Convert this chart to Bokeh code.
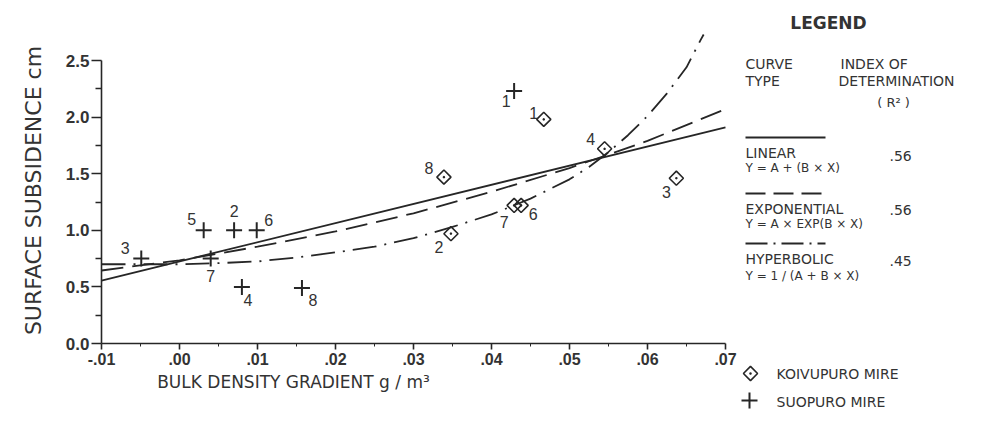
import numpy as np
from bokeh.plotting import figure
from bokeh.models import Range1d, FixedTicker, Label
from bokeh.core.properties import value
from bokeh.embed import file_html
from bokeh.resources import INLINE

# ---------------- data ----------------
x_ticks = [-0.01, 0.0, 0.01, 0.02, 0.03, 0.04, 0.05, 0.06, 0.07]
x_tick_labels = ["-.01", ".00", ".01", ".02", ".03", ".04", ".05", ".06", ".07"]
x_minor_ticks = [-0.005, 0.005, 0.015, 0.025, 0.035, 0.045, 0.055, 0.065]
y_ticks = [0.0, 0.5, 1.0, 1.5, 2.0, 2.5]
y_tick_labels = ["0.0", "0.5", "1.0", "1.5", "2.0", "2.5"]
y_minor_ticks = [0.25, 0.75, 1.25, 1.75, 2.25]

# Koivupuro mire (diamonds)
koiv_id = ["1", "2", "3", "4", "6", "7", "8"]
koiv_x = [0.0467, 0.0348, 0.0637, 0.0545, 0.0438, 0.0429, 0.0339]
koiv_y = [1.98, 0.97, 1.46, 1.72, 1.22, 1.22, 1.47]

# Suopuro mire (plus signs)
suo_id = ["1", "2", "3", "4", "5", "6", "7", "8"]
suo_x = [0.0429, 0.0070, -0.0049, 0.0080, 0.0031, 0.0099, 0.0040, 0.0157]
suo_y = [2.23, 1.00, 0.75, 0.50, 1.00, 1.00, 0.75, 0.49]

# fitted curves
lin_x = [-0.01, 0.07]
lin_y = [0.556, 1.91]
exp_x = [-0.01, 0.0, 0.01, 0.02, 0.03, 0.04, 0.05, 0.06, 0.07]
exp_y = [0.645, 0.735, 0.855, 0.99, 1.15, 1.34, 1.55, 1.79, 2.07]
hyp_x = [-0.01, -0.005, 0.0, 0.005, 0.01, 0.015, 0.02, 0.025, 0.03, 0.035,
         0.04, 0.045, 0.05, 0.0525, 0.055, 0.0575, 0.06, 0.0625, 0.065, 0.0668, 0.0672]
hyp_y = [0.70, 0.70, 0.70, 0.71, 0.725, 0.76, 0.805, 0.855, 0.93, 1.03,
         1.14, 1.28, 1.45, 1.56, 1.69, 1.84, 2.01, 2.21, 2.44, 2.68, 2.73]

curve_names = ["LINEAR", "EXPONENTIAL", "HYPERBOLIC"]
curve_formulas = ["Y = A + (B × X)", "Y = A × EXP(B × X)", "Y = 1 / (A + B × X)"]
curve_r2 = [".56", ".56", ".45"]
group_names = ["KOIVUPURO MIRE", "SUOPURO MIRE"]

# ---------------- layout ----------------
W, H = 991, 421
AX_LEFT = 101       # px of x = -0.01 (y axis)
AX_BOTTOM = 343     # px (from top) of y = 0 (x axis)
PX_PER_X = 7800.0
PX_PER_Y = 113.2
X0 = x_ticks[0] - AX_LEFT / PX_PER_X
X1 = X0 + W / PX_PER_X
Y0 = -(H - AX_BOTTOM) / PX_PER_Y
Y1 = AX_BOTTOM / PX_PER_Y
INK = "#262626"
TXT = "#333333"


def dx(px):
    return X0 + px / PX_PER_X


def dy(py):
    return (AX_BOTTOM - py) / PX_PER_Y


p = figure(width=W, height=H, x_range=Range1d(X0, X1), y_range=Range1d(Y0, Y1),
           output_backend="svg", toolbar_location=None,
           min_border_left=0, min_border_right=0, min_border_top=0,
           min_border_bottom=0)
p.outline_line_color = None
p.grid.visible = False
p.background_fill_color = "white"
p.border_fill_color = "white"

xa = p.xaxis[0]
xa.fixed_location = 0
xa.ticker = FixedTicker(ticks=x_ticks, minor_ticks=x_minor_ticks)
xa.major_label_overrides = dict(zip(x_ticks, x_tick_labels))
xa.bounds = (x_ticks[0], x_ticks[-1])
xa.axis_line_color = INK
xa.axis_line_width = 1.6
xa.major_tick_line_color = INK
xa.major_tick_line_width = 1.6
xa.major_tick_in = 0
xa.major_tick_out = 6
xa.minor_tick_line_color = INK
xa.minor_tick_in = 0
xa.minor_tick_out = 3
xa.major_label_standoff = 3
xa.major_label_text_font = "Liberation Sans"
xa.major_label_text_font_style = "bold"
xa.major_label_text_font_size = "16px"
xa.major_label_text_color = TXT

ya = p.yaxis[0]
ya.fixed_location = x_ticks[0]
ya.ticker = FixedTicker(ticks=y_ticks, minor_ticks=y_minor_ticks)
ya.major_label_overrides = dict(zip(y_ticks, y_tick_labels))
ya.bounds = (y_ticks[0], y_ticks[-1])
ya.axis_line_color = INK
ya.axis_line_width = 1.6
ya.major_tick_line_color = INK
ya.major_tick_line_width = 1.6
ya.major_tick_in = 0
ya.major_tick_out = 10
ya.minor_tick_line_color = INK
ya.minor_tick_line_width = 1.4
ya.minor_tick_in = 0
ya.minor_tick_out = 6
ya.major_label_standoff = 2
ya.major_label_text_font = "Liberation Sans"
ya.major_label_text_font_style = "bold"
ya.major_label_text_font_size = "17px"
ya.major_label_text_color = TXT

# curves
p.line(lin_x, lin_y, line_color=INK, line_width=1.8)
p.line(exp_x, exp_y, line_color=INK, line_width=1.8, line_dash="22 9")
p.line(hyp_x, hyp_y, line_color=INK, line_width=1.8, line_dash="24 8 2 8")

# points
KOIV_STYLE = dict(marker="square_dot", angle=np.pi / 4, size=10,
                  fill_color=None, line_color=INK, line_width=1.6)
SUO_STYLE = dict(marker="cross", size=16, line_color=INK, line_width=2)
p.scatter(koiv_x, koiv_y, **KOIV_STYLE)
p.scatter(suo_x, suo_y, **SUO_STYLE)

# point numbers (pixel offsets are layout)
koiv_dx = [-10, -12, -10, -14, 12, -10, -15]
koiv_dy = [-6, 13, 14, -10, 9, 17, -9]
suo_dx = [-8, 0, -16, 6, -12, 12, 0, 11]
suo_dy = [10, -19, -11, 13, -11, -10, 17, 12]
p.text(koiv_x, koiv_y, text=koiv_id, x_offset=koiv_dx, y_offset=koiv_dy,
       text_font=value("Liberation Sans"), text_font_size="16px", text_color=TXT,
       text_align="center", text_baseline="middle")
p.text(suo_x, suo_y, text=suo_id, x_offset=suo_dx, y_offset=suo_dy,
       text_font=value("Liberation Sans"), text_font_size="16px", text_color=TXT,
       text_align="center", text_baseline="middle")


def lab(text, px, py, size=14, align="left", font="DejaVu Sans", style="normal",
        angle=0.0, color=TXT):
    p.add_layout(Label(x=dx(px), y=dy(py), text=text, text_font=font,
                       text_font_size=f"{size}px", text_font_style=style,
                       text_align=align, text_baseline="middle", angle=angle,
                       text_color=color))


# axis titles
lab("SURFACE SUBSIDENCE cm", 33, 190, size=22, align="center", angle=np.pi / 2)
lab("BULK DENSITY GRADIENT g / m³", 293, 381, size=17, align="center")

# legend block (right)
lab("LEGEND", 828, 22, size=17, align="center", style="bold")
lab("CURVE", 745, 63)
lab("TYPE", 745, 80)
lab("INDEX OF", 840, 63)
lab("DETERMINATION", 838, 80)
lab("( R² )", 893, 102, size=13, align="center")

rows_py = [(137, 152, 167, 155), (193, 208, 223, 209), (243, 258, 275, 260)]
dashes = ["solid", "20 8", "22 6 2 6"]
for (ly, ny, fy, ry), nm, fm, r2, dsh in zip(rows_py, curve_names, curve_formulas,
                                              curve_r2, dashes):
    p.line([dx(745), dx(825)], [dy(ly), dy(ly)], line_color=INK, line_width=1.8,
           line_dash=dsh)
    lab(nm, 745, ny)
    lab(fm, 745, fy, size=12)
    lab(r2, 889, ry)

# marker key (bottom right)
p.scatter([dx(750)], [dy(373)], **KOIV_STYLE)
p.scatter([dx(749)], [dy(400)], **SUO_STYLE)
lab(group_names[0], 776, 373)
lab(group_names[1], 776, 401)

open("out.html", "w").write(file_html(p, INLINE))
